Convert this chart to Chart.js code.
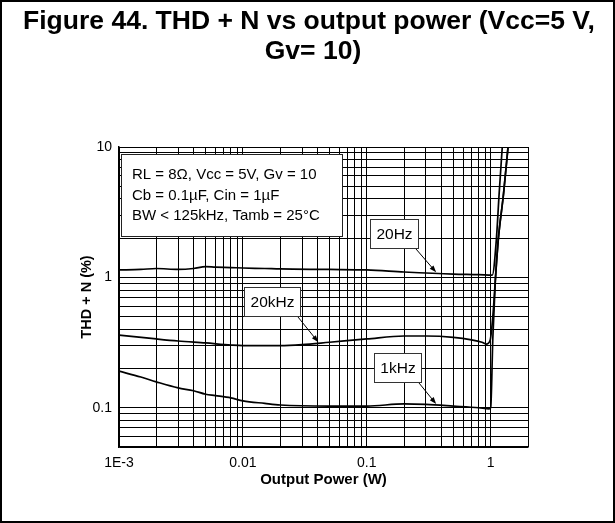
<!DOCTYPE html>
<html>
<head>
<meta charset="utf-8">
<title>THD + N vs output power</title>
<script src="https://cdn.jsdelivr.net/npm/chart.js@4"></script>
<style>
  html, body { margin: 0; padding: 0; background: #fff; }
  canvas { display: block; }
</style>
</head>
<body>
<canvas id="chart-thd-power" width="615" height="523"></canvas>
<script>
// THD + N (%) against output power (W), Vcc = 5 V, Gv = 10

const power20Hz = [0.001, 0.0015, 0.002, 0.003, 0.004, 0.005, 0.006, 0.008, 0.01, 0.015, 0.02, 0.05, 0.1, 0.2, 0.5, 0.8, 1.03, 1.11, 1.17, 1.24];
const thd20Hz   = [1.14, 1.15, 1.17, 1.15, 1.17, 1.21, 1.20, 1.19, 1.18, 1.17, 1.16, 1.15, 1.14, 1.10, 1.06, 1.05, 1.04, 1.93, 4.4, 10];

const power20kHz = [0.001, 0.002, 0.003, 0.005, 0.008, 0.01, 0.02, 0.03, 0.05, 0.1, 0.2, 0.3, 0.5, 0.7, 0.85, 0.92, 0.99, 1.04, 1.09, 1.15, 1.27, 1.38];
const thd20kHz   = [0.361, 0.337, 0.325, 0.314, 0.303, 0.300, 0.300, 0.305, 0.318, 0.337, 0.355, 0.355, 0.347, 0.332, 0.318, 0.308, 0.33, 0.5, 0.95, 1.93, 4.4, 10];

const power1kHz = [0.001, 0.0015, 0.002, 0.003, 0.004, 0.005, 0.006, 0.008, 0.01, 0.015, 0.02, 0.05, 0.1, 0.2, 0.3, 0.5, 0.8, 0.97, 1.0, 1.04, 1.09, 1.15, 1.27, 1.38];
const thd1kHz   = [0.191, 0.172, 0.158, 0.142, 0.135, 0.127, 0.124, 0.119, 0.113, 0.108, 0.105, 0.103, 0.103, 0.107, 0.106, 0.103, 0.100, 0.098, 0.10, 0.34, 0.95, 1.93, 4.4, 10];

const seriesNames = ["20Hz", "20kHz", "1kHz"];

const xTickValues = [0.001, 0.01, 0.1, 1];
const xTickLabels = ["1E-3", "0.01", "0.1", "1"];
const yTickValues = [0.1, 1, 10];
const yTickLabels = ["0.1", "1", "10"];

const titleLines = ["Figure 44. THD + N vs output power (Vcc=5 V,", "Gv= 10)"];
const conditionLines = [
  "RL = 8\u03A9, Vcc = 5V, Gv = 10",
  "Cb = 0.1\u00B5F, Cin = 1\u00B5F",
  "BW < 125kHz, Tamb = 25\u00B0C",
];

// label boxes: centre in data units, arrow tip at power tipX on the series
const curveNotes = [
  { series: 0, cx: 0.167, cy: 2.17, tipX: 0.363 },
  { series: 1, cx: 0.0171, cy: 0.653, tipX: 0.0406 },
  { series: 2, cx: 0.178, cy: 0.204, tipX: 0.363 },
];

const FONT = "'Liberation Sans', Arial, Helvetica, sans-serif";

function toPoints(xs, ys) {
  return xs.map((x, i) => ({ x, y: ys[i] }));
}

// every 1..9 step of each decade, used for the grid
function logGrid(min, max) {
  const out = [];
  for (let e = Math.floor(Math.log10(min)); e <= Math.ceil(Math.log10(max)); e++) {
    for (let m = 1; m <= 9; m++) {
      const v = parseFloat((m * Math.pow(10, e)).toPrecision(6));
      if (v >= min * 0.9999 && v <= max * 1.0001) out.push(v);
    }
  }
  return out;
}

function labelFor(values, labels) {
  return (value) => {
    const i = values.findIndex((v) => Math.abs(value / v - 1) < 1e-6);
    return i >= 0 ? labels[i] : "";
  };
}

// y on a series at a given x, interpolated in log-log space
function valueAt(xs, ys, x) {
  for (let i = 1; i < xs.length; i++) {
    if (x <= xs[i]) {
      const t = (Math.log(x) - Math.log(xs[i - 1])) / (Math.log(xs[i]) - Math.log(xs[i - 1]));
      return Math.exp(Math.log(ys[i - 1]) + t * (Math.log(ys[i]) - Math.log(ys[i - 1])));
    }
  }
  return ys[ys.length - 1];
}

const seriesX = [power20Hz, power20kHz, power1kHz];
const seriesY = [thd20Hz, thd20kHz, thd1kHz];

const framePlugin = {
  id: "figureFrame",
  beforeDraw(chart) {
    const { ctx, width, height } = chart;
    ctx.save();
    ctx.fillStyle = "#fff";
    ctx.fillRect(0, 0, width, height);
    ctx.restore();
  },
  afterDraw(chart) {
    const { ctx, width, height } = chart;
    ctx.save();
    ctx.strokeStyle = "#000";
    ctx.lineWidth = 2;
    ctx.strokeRect(1, 1, width - 2, height - 2);

    ctx.fillStyle = "#000";
    ctx.font = "bold 26.5px " + FONT;
    ctx.textAlign = "center";
    ctx.textBaseline = "alphabetic";
    ctx.fillText(titleLines[0], 309, 29);
    ctx.fillText(titleLines[1], 313, 59);
    ctx.restore();
  },
};

const notesPlugin = {
  id: "curveNotes",
  afterDatasetsDraw(chart) {
    const { ctx, chartArea, scales } = chart;
    const xs = scales.x;
    const ys = scales.y;
    ctx.save();

    // test conditions box
    const bx = chartArea.left + 2;
    const by = chartArea.top + 7;
    ctx.fillStyle = "#fff";
    ctx.fillRect(bx, by, 221, 82);
    ctx.strokeStyle = "#222";
    ctx.lineWidth = 1;
    ctx.strokeRect(bx + 0.5, by + 0.5, 221, 82);
    ctx.fillStyle = "#000";
    ctx.font = "15px " + FONT;
    ctx.textAlign = "left";
    ctx.textBaseline = "middle";
    conditionLines.forEach((line, i) => {
      ctx.fillText(line, bx + 11, by + 21 + i * 20.5);
    });

    // series labels with arrows
    ctx.font = "15.5px " + FONT;
    curveNotes.forEach((note) => {
      const text = seriesNames[note.series];
      const w = Math.round(ctx.measureText(text).width + 12);
      const h = 29;
      const cx = xs.getPixelForValue(note.cx);
      const cy = ys.getPixelForValue(note.cy);
      const left = Math.round(cx - w / 2);
      const top = Math.round(cy - h / 2);

      ctx.fillStyle = "#fff";
      ctx.fillRect(left, top, w, h);
      ctx.strokeStyle = "#333";
      ctx.lineWidth = 1;
      ctx.strokeRect(left + 0.5, top + 0.5, w, h);
      ctx.fillStyle = "#000";
      ctx.textAlign = "center";
      ctx.textBaseline = "middle";
      ctx.fillText(text, left + w / 2 + 0.5, top + h / 2 + 1);

      const tipY = valueAt(seriesX[note.series], seriesY[note.series], note.tipX);
      const tx = xs.getPixelForValue(note.tipX);
      const ty = ys.getPixelForValue(tipY) - 1;
      const sx = left + w - 2;
      const sy = top + h + 1;
      const ang = Math.atan2(ty - sy, tx - sx);

      ctx.strokeStyle = "#000";
      ctx.beginPath();
      ctx.moveTo(sx, sy);
      ctx.lineTo(tx - 5 * Math.cos(ang), ty - 5 * Math.sin(ang));
      ctx.stroke();
      ctx.beginPath();
      ctx.moveTo(tx, ty);
      ctx.lineTo(tx - 7 * Math.cos(ang) + 2.5 * Math.sin(ang), ty - 7 * Math.sin(ang) - 2.5 * Math.cos(ang));
      ctx.lineTo(tx - 7 * Math.cos(ang) - 2.5 * Math.sin(ang), ty - 7 * Math.sin(ang) + 2.5 * Math.cos(ang));
      ctx.closePath();
      ctx.fill();
    });

    ctx.restore();
  },
};

function curve(label, xs, ys) {
  return {
    label,
    data: toPoints(xs, ys),
    borderColor: "#000",
    borderWidth: 1.7,
    pointRadius: 0,
    fill: false,
    cubicInterpolationMode: "monotone",
  };
}

const ctx = document.getElementById("chart-thd-power").getContext("2d");

new Chart(ctx, {
  type: "line",
  data: {
    datasets: [
      curve(seriesNames[0], power20Hz, thd20Hz),
      curve(seriesNames[1], power20kHz, thd20kHz),
      curve(seriesNames[2], power1kHz, thd1kHz),
    ],
  },
  options: {
    responsive: false,
    animation: false,
    devicePixelRatio: 1,
    layout: { padding: { top: 147, right: 87, left: 0, bottom: 0 } },
    plugins: {
      legend: { display: false },
      tooltip: { enabled: false },
      title: { display: false },
    },
    scales: {
      x: {
        type: "logarithmic",
        min: 0.001,
        max: 2,
        afterBuildTicks: (scale) => {
          scale.ticks = logGrid(scale.min, scale.max).map((v) => ({ value: v }));
        },
        afterFit: (scale) => {
          scale.height = 76;
        },
        grid: { color: "#000", lineWidth: 1, drawTicks: false },
        border: { color: "#000", width: 1.5 },
        ticks: {
          autoSkip: false,
          maxRotation: 0,
          padding: 8,
          color: "#000",
          font: { family: FONT, size: 14 },
          callback: labelFor(xTickValues, xTickLabels),
        },
        title: {
          display: true,
          text: "Output Power (W)",
          color: "#000",
          font: { family: FONT, size: 15, weight: "bold" },
          padding: { top: 0, bottom: 34 },
        },
      },
      y: {
        type: "logarithmic",
        min: 0.05,
        max: 10,
        afterBuildTicks: (scale) => {
          scale.ticks = logGrid(scale.min, scale.max).map((v) => ({ value: v }));
        },
        afterFit: (scale) => {
          scale.width = 119;
        },
        grid: { color: "#000", lineWidth: 1, drawTicks: false },
        border: { color: "#000", width: 1.5 },
        ticks: {
          autoSkip: false,
          padding: 7,
          color: "#000",
          font: { family: FONT, size: 14 },
          callback: labelFor(yTickValues, yTickLabels),
        },
        title: {
          display: true,
          text: "THD + N (%)",
          color: "#000",
          font: { family: FONT, size: 14.5, weight: "bold" },
          padding: { top: 78, bottom: 0 },
        },
      },
    },
  },
  plugins: [framePlugin, notesPlugin],
});
</script>
</body>
</html>
